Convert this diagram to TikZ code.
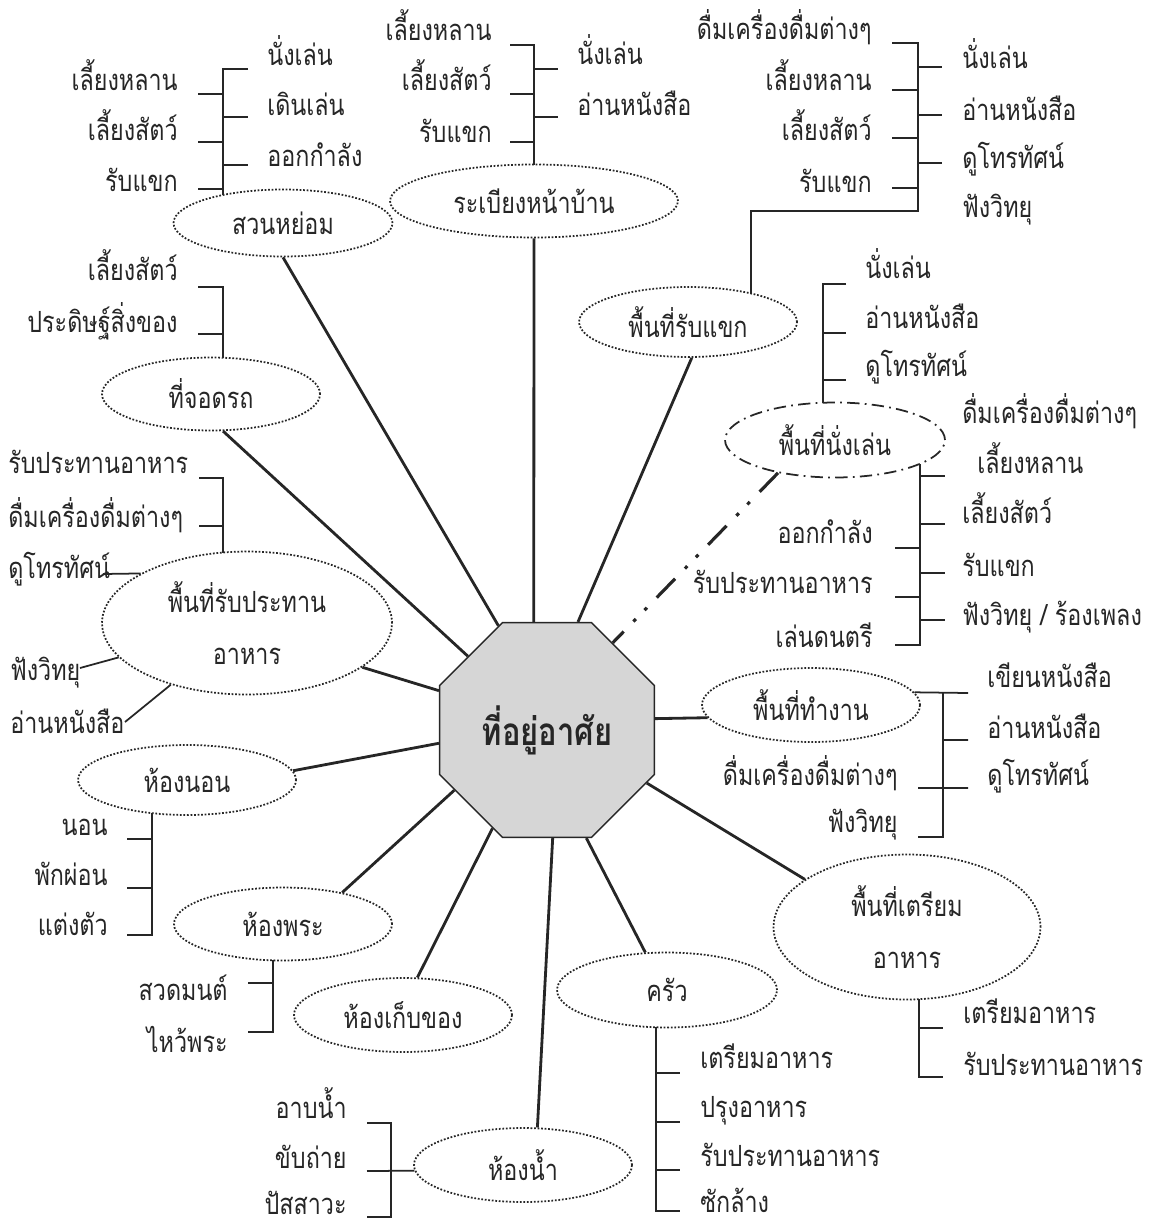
\documentclass[tikz,border=0pt]{standalone}
\usepackage{fontspec}
\setmainfont[Script=Thai, FakeStretch=0.8]{Loma}
\usetikzlibrary{shapes.geometric}
\tikzset{
  room/.style={ellipse, draw, densely dotted, line width=1pt, minimum width=4.36cm, minimum height=1.46cm, inner sep=0pt, align=center},
  bigroom/.style={room, font=\fontsize{16.6}{30}\selectfont},
  spoke/.style={line width=1.6pt},
  brk/.style={line width=1pt},
  litem/.style={anchor=base east, inner sep=0pt},
  ritem/.style={anchor=base west, inner sep=0pt},
}
\begin{document}
\begin{tikzpicture}[x=0.02cm, y=-0.02cm, font=\fontsize{16.6}{20}\selectfont, color=black!85]
  \useasboundingbox (0,0) rectangle (1150,1227);

  \node[regular polygon, regular polygon sides=8, minimum size=4.65cm, inner sep=0pt, draw, thick, fill=black!16, font=\fontsize{22}{26}\selectfont\bfseries] (home) at (547,730) {ที่อยู่อาศัย};

  \node[room, minimum width=4.38cm, minimum height=1.34cm] (garden) at (283,223) {สวนหย่อม};
  \node[room, minimum width=5.76cm] (porch) at (534,201) {ระเบียงหน้าบ้าน};
  \node[room, minimum height=1.4cm] (guest) at (688,322) {พื้นที่รับแขก};
  \node[room] (park) at (211,394) {ที่จอดรถ};
  \node[bigroom, minimum width=5.8cm, minimum height=2.86cm] (dining) at (247,623) {พื้นที่รับประทาน\\อาหาร};
  \node[room, minimum height=1.4cm] (bed) at (187,780) {ห้องนอน};
  \node[room] (shrine) at (283,924) {ห้องพระ};
  \node[room, minimum height=1.48cm] (store) at (403,1015) {ห้องเก็บของ};
  \node[room, minimum height=1.48cm] (bath) at (523,1165) {ห้องน้ำ};
  \node[room, minimum width=4.4cm, minimum height=1.5cm] (kitchen) at (667,990) {ครัว};
  \node[bigroom, minimum width=5.34cm, minimum height=2.9cm] (prep) at (907,927) {พื้นที่เตรียม\\อาหาร};
  \node[room, minimum height=1.48cm] (work) at (811,705) {พื้นที่ทำงาน};
  \node[room, minimum width=4.4cm, minimum height=1.5cm, dash pattern=on 7pt off 3pt on 1pt off 3pt] (living) at (835,440) {พื้นที่นั่งเล่น};

  \draw[spoke] (garden.south) -- (home.115);
  \draw[spoke] (porch.south) -- (home.97);
  \draw[spoke] (guest.-84) -- (home.74);
  \draw[spoke] (park.-72) -- (home.137);
  \draw[spoke] (dining.-21) -- (home.160);
  \draw[spoke] (bed.5) -- (home.187);
  \draw[spoke] (shrine.28) -- (home.213);
  \draw[spoke] (store.69) -- (home.241);
  \draw[spoke] (bath.69) -- (home.273);
  \draw[spoke] (kitchen.120) -- (home.290);
  \draw[spoke] (prep.155) -- (home.-28);
  \draw[spoke] (work.187) -- (home.6);
  \draw[spoke, line width=1.8pt, dash pattern=on 15pt off 8pt on 2pt off 7pt on 2pt off 8pt] (living.210) -- (home.53);

  \draw[brk] (248,69) -- (223,69) -- (223,195) (198,94) -- (223,94) (198,142) -- (223,142) (198,189) -- (223,189) (223,117) -- (248,117) (223,165) -- (248,165);
  \node[litem] (ga-a) at (178,90) {เลี้ยงหลาน};
  \node[litem] (ga-b) at (178,140) {เลี้ยงสัตว์};
  \node[litem] (ga-c) at (178,191) {รับแขก};
  \node[ritem] (ga-d) at (267,65) {นั่งเล่น};
  \node[ritem] (ga-e) at (267,115) {เดินเล่น};
  \node[ritem] (ga-f) at (267,166) {ออกกำลัง};

  \draw[brk] (510,45) -- (534,45) -- (534,165) (510,94) -- (534,94) (510,142) -- (534,142) (534,69) -- (558,69) (534,117) -- (558,117);
  \node[litem] (po-a) at (492,40) {เลี้ยงหลาน};
  \node[litem] (po-b) at (492,90) {เลี้ยงสัตว์};
  \node[litem] (po-c) at (492,142) {รับแขก};
  \node[ritem] (po-d) at (577,64) {นั่งเล่น};
  \node[ritem] (po-e) at (577,115) {อ่านหนังสือ};

  \draw[brk] (751,293) -- (751,211) -- (918,211) -- (918,43) -- (892,43) (892,90) -- (918,90) (892,138) -- (918,138) (892,188) -- (918,188) (918,67) -- (942,67) (918,115) -- (942,115) (918,163) -- (942,163);
  \node[litem] (gu-a) at (872,39) {ดื่มเครื่องดื่มต่างๆ};
  \node[litem] (gu-b) at (872,90) {เลี้ยงหลาน};
  \node[litem] (gu-c) at (872,140) {เลี้ยงสัตว์};
  \node[litem] (gu-d) at (872,192) {รับแขก};
  \node[ritem] (gu-e) at (962,68) {นั่งเล่น};
  \node[ritem] (gu-f) at (962,120) {อ่านหนังสือ};
  \node[ritem] (gu-g) at (962,168) {ดูโทรทัศน์};
  \node[ritem] (gu-h) at (962,217) {ฟังวิทยุ};

  \draw[brk] (846,284) -- (823,284) -- (823,403) (823,333) -- (846,333) (823,380) -- (846,380);
  \node[ritem] (li-a) at (865,278) {นั่งเล่น};
  \node[ritem] (li-b) at (865,328) {อ่านหนังสือ};
  \node[ritem] (li-c) at (865,376) {ดูโทรทัศน์};

  \draw[brk] (920,464) -- (920,645) -- (895,645) (895,548) -- (920,548) (895,597) -- (920,597) (920,476) -- (945,476) (920,524) -- (945,524) (920,573) -- (945,573) (920,620) -- (945,620);
  \node[ritem] (li-d) at (962,423) {ดื่มเครื่องดื่มต่างๆ};
  \node[ritem] (li-e) at (977,473) {เลี้ยงหลาน};
  \node[ritem] (li-f) at (962,523) {เลี้ยงสัตว์};
  \node[ritem] (li-g) at (962,576) {รับแขก};
  \node[ritem] (li-h) at (962,625) {ฟังวิทยุ / ร้องเพลง};
  \node[litem] (li-i) at (873,543) {ออกกำลัง};
  \node[litem] (li-j) at (873,593) {รับประทานอาหาร};
  \node[litem] (li-k) at (873,647) {เล่นดนตรี};

  \draw[brk] (198,287) -- (223,287) -- (223,358) (198,334) -- (223,334);
  \node[litem] (pa-a) at (178,280) {เลี้ยงสัตว์};
  \node[litem] (pa-b) at (178,332) {ประดิษฐ์สิ่งของ};

  \draw[brk] (199,478) -- (223,478) -- (223,553) (199,526) -- (223,526);
  \node[ritem] (di-a) at (8,473) {รับประทานอาหาร};
  \node[ritem] (di-b) at (8,527) {ดื่มเครื่องดื่มต่างๆ};
  \node[ritem] (di-c) at (8,578) {ดูโทรทัศน์};
  \node[ritem] (di-d) at (10,680) {ฟังวิทยุ};
  \node[ritem] (di-e) at (10,733) {อ่านหนังสือ};
  \draw[brk] (103,574) -- (dining.155);
  \draw[brk] (80,668) -- (dining.195);
  \draw[brk] (125,722) -- (dining.219);

  \draw[brk] (152,813) -- (152,935) -- (127,935) (127,839) -- (152,839) (127,888) -- (152,888);
  \node[litem] (be-a) at (108,835) {นอน};
  \node[litem] (be-b) at (108,885) {พักผ่อน};
  \node[litem] (be-c) at (108,935) {แต่งตัว};

  \draw[brk] (273,960) -- (273,1032) -- (248,1032) (248,983) -- (273,983);
  \node[litem] (sh-a) at (228,1000) {สวดมนต์};
  \node[litem] (sh-b) at (228,1052) {ไหว้พระ};

  \draw[brk] (367,1123) -- (391,1123) -- (391,1217) -- (367,1217) (367,1171) -- (bath.183);
  \node[litem] (ba-a) at (347,1118) {อาบน้ำ};
  \node[litem] (ba-b) at (347,1168) {ขับถ่าย};
  \node[litem] (ba-c) at (347,1214) {ปัสสาวะ};

  \draw[brk] (656,1027) -- (656,1211) -- (680,1211) (656,1073) -- (680,1073) (656,1122) -- (680,1122) (656,1170) -- (680,1170);
  \node[ritem] (ki-a) at (700,1068) {เตรียมอาหาร};
  \node[ritem] (ki-b) at (700,1117) {ปรุงอาหาร};
  \node[ritem] (ki-c) at (700,1166) {รับประทานอาหาร};
  \node[ritem] (ki-d) at (700,1212) {ซักล้าง};

  \draw[brk] (919,999) -- (919,1077) -- (943,1077) (919,1028) -- (943,1028);
  \node[ritem] (pr-a) at (963,1023) {เตรียมอาหาร};
  \node[ritem] (pr-b) at (963,1075) {รับประทานอาหาร};

  \draw[brk] (work.7) -- (968,693) (943,693) -- (943,837) -- (918,837) (943,740) -- (968,740) (918,788) -- (968,788);
  \node[ritem] (wo-a) at (987,687) {เขียนหนังสือ};
  \node[ritem] (wo-b) at (987,738) {อ่านหนังสือ};
  \node[ritem] (wo-c) at (987,785) {ดูโทรทัศน์};
  \node[litem] (wo-d) at (898,785) {ดื่มเครื่องดื่มต่างๆ};
  \node[litem] (wo-e) at (898,832) {ฟังวิทยุ};
\end{tikzpicture}
\end{document}
